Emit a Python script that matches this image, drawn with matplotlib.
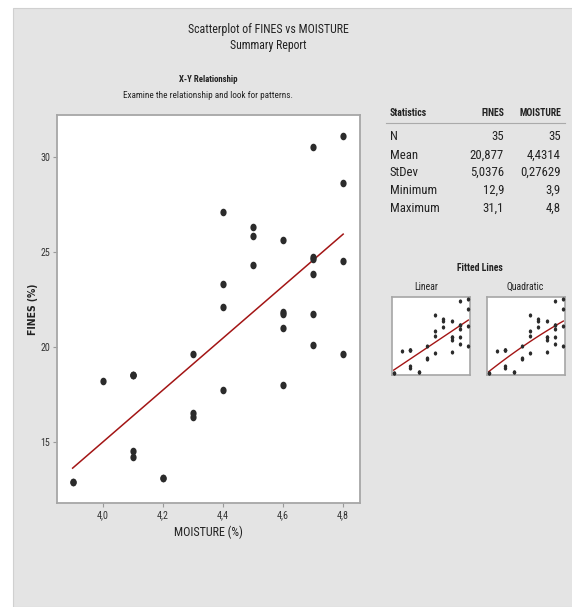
import numpy as np
import matplotlib
matplotlib.use("Agg")
import matplotlib.pyplot as plt
from matplotlib import font_manager as fm
from matplotlib.patches import Rectangle

# data
moisture = [4.8, 4.7, 4.8, 4.4, 4.5, 4.5, 4.6, 4.7, 4.7, 4.8, 4.5, 4.7,
            4.4, 4.4, 4.6, 4.6, 4.7, 4.6, 4.7, 4.3, 4.8, 4.1, 4.0, 4.6,
            4.4, 4.3, 4.3, 4.1, 4.1, 4.2, 3.9, 3.9, 4.1, 4.1, 4.2]
fines = [31.1, 30.5, 28.6, 27.1, 26.3, 25.8, 25.6, 24.7, 24.6, 24.5, 24.3, 23.8,
         23.3, 22.1, 21.8, 21.7, 21.7, 21.0, 20.1, 19.6, 19.6, 18.5, 18.2, 18.0,
         17.7, 16.5, 16.3, 14.5, 14.2, 13.1, 12.9, 12.9, 18.5, 18.5, 13.1]

xticks = [4.0, 4.2, 4.4, 4.6, 4.8]
xticklabels = ["4,0", "4,2", "4,4", "4,6", "4,8"]
yticks = [15, 20, 25, 30]
yticklabels = ["15", "20", "25", "30"]

stat_names = ["N", "Mean", "StDev", "Minimum", "Maximum"]
stat_fines = ["35", "20,877", "5,0376", "12,9", "31,1"]
stat_moisture = ["35", "4,4314", "0,27629", "3,9", "4,8"]

W, H = 572, 607

# the report uses a narrow sans; take a condensed face if one is installed
names = {f.name for f in fm.fontManager.ttflist}
narrow = [f.name for f in fm.fontManager.ttflist if f.stretch in ("condensed", "semi-condensed")]
FAM = "Roboto"
for cand in ["Noto Sans Condensed", "Roboto Condensed", "Open Sans Condensed",
             "Liberation Sans Narrow", "Arial Narrow"]:
    if cand in names:
        FAM = cand
        break
else:
    if "Noto Sans" in narrow:
        FAM = "Noto Sans"
    elif "Roboto" in narrow:
        FAM = "Roboto"
plt.rcParams["font.family"] = [FAM, "DejaVu Sans"]
plt.rcParams["font.stretch"] = "condensed"

DOT = "#2b2b2b"
RED = "#a31515"
BORDER = "#a6a6a6"
TXT = "#222222"


def rect(x0, y0, x1, y1):
    return [x0 / W, 1 - y1 / H, (x1 - x0) / W, (y1 - y0) / H]


def txt(x, y, s, **kw):
    kw.setdefault("color", TXT)
    fig.text(x / W, 1 - y / H, s, va="center", **kw)


# slightly tall ellipse marker, like the squeezed dots in the report
t = np.linspace(0, 2 * np.pi, 30)
dot = np.column_stack([0.82 * np.cos(t), np.sin(t)])

fig = plt.figure(figsize=(W / 100, H / 100), dpi=100, facecolor="white")
fig.patches.append(Rectangle((13 / W, 0), 1, 1 - 8 / H, transform=fig.transFigure,
                             facecolor="#e4e4e4", edgecolor="#d0d0d0", lw=0.8, zorder=-5))

txt(268, 29, "Scatterplot of FINES vs MOISTURE", ha="center", fontsize=8.6)
txt(268, 46, "Summary Report", ha="center", fontsize=8.5)
txt(208, 80, "X-Y Relationship", ha="center", fontsize=6.3, fontweight="bold")
txt(208, 95, "Examine the relationship and look for patterns.", ha="center", fontsize=6.6)

# main scatter
ax = fig.add_axes(rect(57, 115, 360, 503))
ax.scatter(moisture, fines, s=30, marker=dot, color=DOT, linewidths=0, zorder=3)
b1, b0 = np.polyfit(moisture, fines, 1)
xl = np.array([min(moisture), max(moisture)])
ax.plot(xl, b0 + b1 * xl, color=RED, lw=1.1, zorder=2)
ax.set_xlim(3.848, 4.856)
ax.set_ylim(11.77, 32.19)
ax.set_xticks(xticks)
ax.set_xticklabels(xticklabels)
ax.set_yticks(yticks)
ax.set_yticklabels(yticklabels)
ax.tick_params(length=3, width=0.8, color="#999999", labelsize=7.2, labelcolor="#333333", pad=2)
for sp in ax.spines.values():
    sp.set_color(BORDER)
    sp.set_linewidth(1.3)
ax.set_xlabel("MOISTURE (%)", fontsize=8.7, color=TXT, labelpad=4)
fig.text(33 / W, 1 - 309 / H, "FINES (%)", rotation=90, ha="center", va="center",
         fontsize=7.5, fontweight="bold", family="DejaVu Sans", color=TXT)

# statistics table
txt(390, 113, "Statistics", ha="left", fontsize=7, fontweight="bold")
txt(504, 113, "FINES", ha="right", fontsize=7, fontweight="bold")
txt(561, 113, "MOISTURE", ha="right", fontsize=7, fontweight="bold")
fig.add_artist(plt.Line2D([386 / W, 565 / W], [1 - 123 / H] * 2, color="#aaaaaa", lw=0.8))
rows_y = [137, 155, 172, 190, 208]
for yy, name, f, m in zip(rows_y, stat_names, stat_fines, stat_moisture):
    txt(390, yy, name, ha="left", fontsize=9.2)
    txt(504, yy, f, ha="right", fontsize=9.2)
    txt(561, yy, m, ha="right", fontsize=9.2)

# fitted lines thumbnails
txt(480, 268, "Fitted Lines", ha="center", fontsize=7, fontweight="bold")
txt(426, 287, "Linear", ha="center", fontsize=7)
txt(525, 287, "Quadratic", ha="center", fontsize=7)

xs = np.linspace(min(moisture), max(moisture), 50)
for (x0, x1), deg in [((392, 470), 1), ((487, 565), 2)]:
    sa = fig.add_axes(rect(x0, 297, x1, 375))
    sa.scatter(moisture, fines, s=9, marker=dot, color=DOT, linewidths=0, zorder=3)
    coef = np.polyfit(moisture, fines, deg)
    sa.plot(xs, np.polyval(coef, xs), color=RED, lw=1, zorder=2)
    sa.set_xlim(3.88, 4.82)
    sa.set_ylim(12.4, 31.6)
    sa.set_xticks([])
    sa.set_yticks([])
    for sp in sa.spines.values():
        sp.set_color(BORDER)
        sp.set_linewidth(1.2)

fig.savefig("out.png", dpi=100)
